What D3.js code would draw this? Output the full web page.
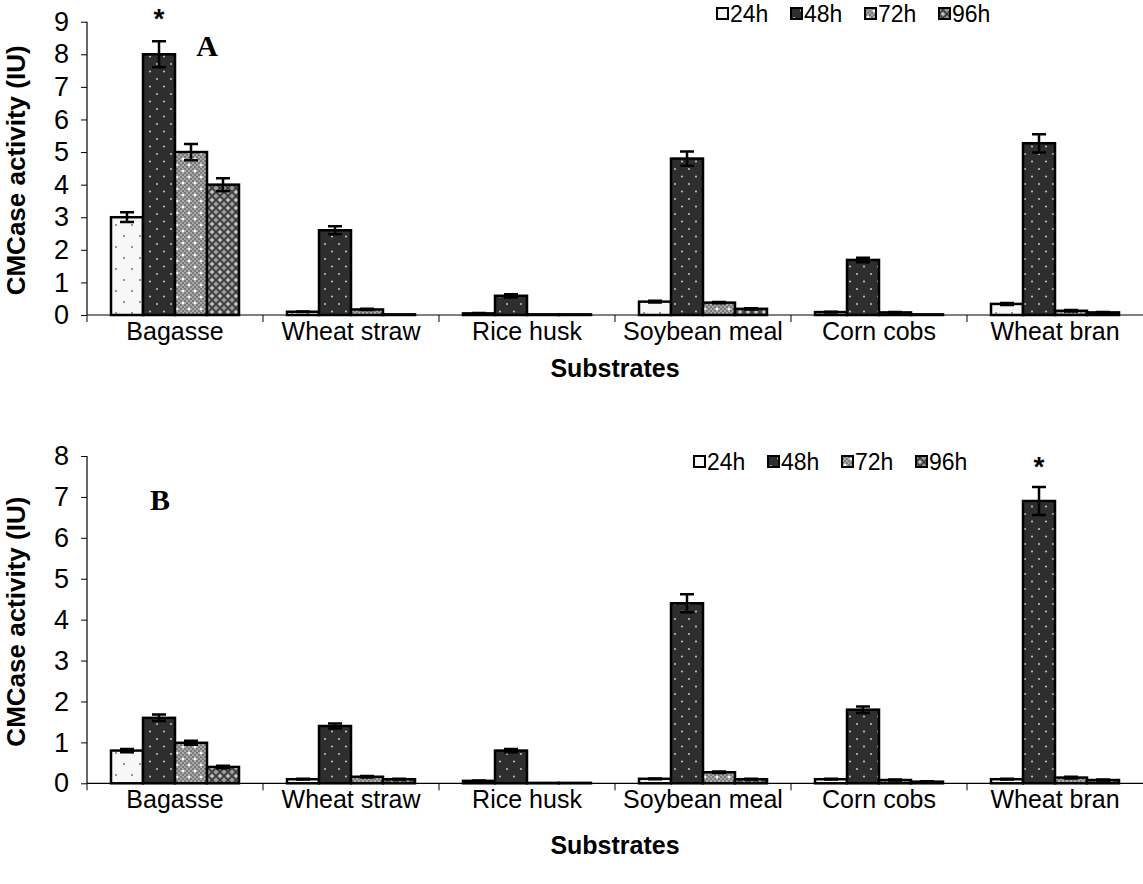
<!DOCTYPE html>
<html>
<head>
<meta charset="utf-8">
<script src="https://cdn.jsdelivr.net/npm/d3@7"></script>
<style>
    body { margin: 0; background: #fff; }
    svg text { font-family: "Liberation Sans", Arial, sans-serif; fill: #000; }
</style>
</head>
<body>
<svg id="chart" width="1143" height="884"></svg>
<script>
const substrates = ['Bagasse', 'Wheat straw', 'Rice husk', 'Soybean meal', 'Corn cobs', 'Wheat bran'];
const seriesNames = ['24h', '48h', '72h', '96h'];

// panel A
const a24 = [3.0, 0.10, 0.05, 0.41, 0.09, 0.34];
const a48 = [8.0, 2.6, 0.59, 4.8, 1.69, 5.27];
const a72 = [5.0, 0.17, 0.02, 0.38, 0.08, 0.13];
const a96 = [4.0, 0.02, 0.02, 0.19, 0.02, 0.08];
const aErr24 = [0.15, 0.01, 0.01, 0.03, 0.01, 0.03];
const aErr48 = [0.4, 0.12, 0.05, 0.22, 0.07, 0.28];
const aErr72 = [0.25, 0.02, 0.0, 0.02, 0.01, 0.02];
const aErr96 = [0.2, 0.0, 0.0, 0.02, 0.0, 0.01];
const aTicks = [0, 1, 2, 3, 4, 5, 6, 7, 8, 9];

// panel B
const b24 = [0.8, 0.10, 0.06, 0.11, 0.10, 0.10];
const b48 = [1.6, 1.4, 0.8, 4.4, 1.8, 6.9];
const b72 = [0.99, 0.16, 0.01, 0.27, 0.08, 0.14];
const b96 = [0.4, 0.10, 0.01, 0.10, 0.04, 0.08];
const bErr24 = [0.04, 0.01, 0.01, 0.01, 0.01, 0.01];
const bErr48 = [0.08, 0.06, 0.04, 0.22, 0.08, 0.34];
const bErr72 = [0.05, 0.02, 0.0, 0.02, 0.01, 0.02];
const bErr96 = [0.03, 0.01, 0.0, 0.01, 0.01, 0.01];
const bTicks = [0, 1, 2, 3, 4, 5, 6, 7, 8];

const svg = d3.select('#chart');

// fill patterns for the four time points
const defs = svg.append('defs');

let p = defs.append('pattern').attr('id', 'pat24').attr('patternUnits', 'userSpaceOnUse')
    .attr('width', 16).attr('height', 22);
p.append('rect').attr('width', 16).attr('height', 22).attr('fill', '#f7f7f7');
p.append('circle').attr('cx', 4).attr('cy', 5).attr('r', 1).attr('fill', '#777');
p.append('circle').attr('cx', 12).attr('cy', 16).attr('r', 1).attr('fill', '#777');

p = defs.append('pattern').attr('id', 'pat48').attr('patternUnits', 'userSpaceOnUse')
    .attr('width', 14).attr('height', 15);
p.append('rect').attr('width', 14).attr('height', 15).attr('fill', '#2e2e2e');
p.append('circle').attr('cx', 3).attr('cy', 4).attr('r', 1.1).attr('fill', '#bbb');
p.append('circle').attr('cx', 10).attr('cy', 11.5).attr('r', 1.1).attr('fill', '#bbb');

p = defs.append('pattern').attr('id', 'pat72').attr('patternUnits', 'userSpaceOnUse')
    .attr('width', 12).attr('height', 12);
p.append('rect').attr('width', 12).attr('height', 12).attr('fill', '#a8a8a8');
for (let i = 0; i < 6; i++) {
    for (let j = 0; j < 6; j++) {
        if ((i + j) % 2 === 0) {
            p.append('rect').attr('x', i * 2).attr('y', j * 2).attr('width', 2).attr('height', 2).attr('fill', '#7a7a7a');
        }
    }
}
p.append('circle').attr('cx', 3).attr('cy', 3).attr('r', 1.3).attr('fill', '#fff');
p.append('circle').attr('cx', 9).attr('cy', 9).attr('r', 1.3).attr('fill', '#fff');

p = defs.append('pattern').attr('id', 'pat96').attr('patternUnits', 'userSpaceOnUse')
    .attr('width', 8).attr('height', 8);
p.append('rect').attr('width', 8).attr('height', 8).attr('fill', '#9a9a9a');
p.append('path').attr('d', 'M0,0L8,8M8,0L0,8').attr('stroke', '#3a3a3a').attr('stroke-width', 1.6);
p.append('circle').attr('cx', 4).attr('cy', 0).attr('r', 1).attr('fill', '#ddd');
p.append('circle').attr('cx', 4).attr('cy', 8).attr('r', 1).attr('fill', '#ddd');

const fills = ['url(#pat24)', 'url(#pat48)', 'url(#pat72)', 'url(#pat96)'];

class GroupedBars {
    constructor(_config, _values, _errors) {
        this.config = {
            top: _config.top,
            bottom: _config.bottom,
            left: 87,
            right: 1143,
            yMax: _config.yMax,
            ticks: _config.ticks,
            labelGap: _config.labelGap,
            titleGap: _config.titleGap,
            panel: _config.panel,
            panelPos: _config.panelPos,
            legendX: _config.legendX,
            legendY: _config.legendY,
            star: _config.star
        };
        this.values = _values;
        this.errors = _errors;
        this.initVis();
    }

    initVis() {
        let vis = this;
        const c = vis.config;

        vis.xScale = d3.scaleBand()
            .domain(substrates)
            .range([c.left, c.right]);

        vis.xSub = d3.scaleBand()
            .domain(seriesNames)
            .range([24, vis.xScale.bandwidth() - 24]);

        vis.yScale = d3.scaleLinear()
            .domain([0, c.yMax])
            .range([c.bottom, c.top]);

        vis.g = svg.append('g');

        // y axis
        vis.g.append('g')
            .attr('transform', `translate(${c.left},0)`)
            .call(d3.axisLeft(vis.yScale).tickValues(c.ticks).tickSize(6).tickPadding(12).tickFormat(d3.format('d')))
            .call(g => g.select('.domain').attr('stroke-width', 1.2).attr('d', `M0,${c.bottom}V${c.top}`))
            .call(g => g.selectAll('.tick line').attr('stroke-width', 1))
            .call(g => g.selectAll('.tick text').attr('font-size', 27).attr('font-family', '"Liberation Sans", Arial, sans-serif'));

        // x axis with ticks between categories
        vis.g.append('line')
            .attr('x1', c.left).attr('x2', c.right)
            .attr('y1', c.bottom).attr('y2', c.bottom)
            .attr('stroke', '#000').attr('stroke-width', 1.2);

        vis.g.selectAll('.xtick')
            .data(substrates)
            .join('line')
            .attr('class', 'xtick')
            .attr('x1', d => vis.xScale(d)).attr('x2', d => vis.xScale(d))
            .attr('y1', c.bottom).attr('y2', c.bottom + 7)
            .attr('stroke', '#000').attr('stroke-width', 1);

        vis.g.selectAll('.xlabel')
            .data(substrates)
            .join('text')
            .attr('class', 'xlabel')
            .attr('x', d => vis.xScale(d) + vis.xScale.bandwidth() / 2)
            .attr('y', c.bottom + c.labelGap)
            .attr('text-anchor', 'middle')
            .attr('font-size', 25)
            .text(d => d);

        vis.g.append('text')
            .attr('x', (c.left + c.right) / 2)
            .attr('y', c.bottom + c.titleGap)
            .attr('text-anchor', 'middle')
            .attr('font-size', 25)
            .attr('font-weight', 'bold')
            .text('Substrates');

        vis.g.append('text')
            .attr('transform', `translate(25,${(c.top + c.bottom) / 2 + 2}) rotate(-90)`)
            .attr('text-anchor', 'middle')
            .attr('font-size', 26)
            .attr('font-weight', 'bold')
            .text('CMCase activity (IU)');

        vis.renderVis();
    }

    renderVis() {
        let vis = this;
        const c = vis.config;

        const rows = [];
        substrates.forEach((s, i) => {
            seriesNames.forEach((n, k) => {
                rows.push({ sub: s, series: n, k: k, value: vis.values[k][i], err: vis.errors[k][i] });
            });
        });

        const bars = vis.g.append('g');

        bars.selectAll('rect')
            .data(rows)
            .join('rect')
            .attr('x', d => vis.xScale(d.sub) + vis.xSub(d.series))
            .attr('width', vis.xSub.bandwidth())
            .attr('y', d => vis.yScale(d.value))
            .attr('height', d => c.bottom - vis.yScale(d.value))
            .attr('fill', d => fills[d.k])
            .attr('stroke', '#000')
            .attr('stroke-width', 2.5);

        const errRows = rows.filter(d => d.err > 0);
        const cx = d => vis.xScale(d.sub) + vis.xSub(d.series) + vis.xSub.bandwidth() / 2;

        bars.selectAll('.err')
            .data(errRows)
            .join('path')
            .attr('class', 'err')
            .attr('fill', 'none')
            .attr('stroke', '#000')
            .attr('stroke-width', 2.5)
            .attr('d', d => {
                const y1 = vis.yScale(d.value + d.err);
                const y2 = vis.yScale(d.value - d.err);
                const x = cx(d);
                return `M${x - 7},${y1}H${x + 7}M${x},${y1}V${y2}M${x - 7},${y2}H${x + 7}`;
            });

        // significance star
        const s = c.star;
        const starX = vis.xScale(s.sub) + vis.xSub(s.series) + vis.xSub.bandwidth() / 2;
        vis.g.append('text')
            .attr('x', starX)
            .attr('y', s.y)
            .attr('text-anchor', 'middle')
            .attr('font-size', 28)
            .attr('font-weight', 'bold')
            .text('*');

        // panel letter
        vis.g.append('text')
            .attr('x', c.panelPos[0])
            .attr('y', c.panelPos[1])
            .attr('text-anchor', 'middle')
            .attr('font-size', 30)
            .attr('font-weight', 'bold')
            .style('font-family', '"Liberation Serif", "Times New Roman", serif')
            .text(c.panel);

        // legend
        const legend = vis.g.selectAll('.legend')
            .data(seriesNames)
            .join('g')
            .attr('class', 'legend')
            .attr('transform', (d, i) => `translate(${c.legendX + i * 74},${c.legendY})`);

        legend.append('rect')
            .attr('x', 0).attr('y', -6)
            .attr('width', 11).attr('height', 11)
            .attr('fill', (d, i) => fills[i])
            .attr('stroke', '#000')
            .attr('stroke-width', 2);

        legend.append('text')
            .attr('x', 13)
            .attr('y', 8)
            .attr('font-size', 23)
            .text(d => d);
    }
}

new GroupedBars({
    top: 21.7, bottom: 315, yMax: 9, ticks: aTicks,
    labelGap: 25, titleGap: 62,
    panel: 'A', panelPos: [207, 56],
    legendX: 717, legendY: 14,
    star: { sub: 'Bagasse', series: '48h', y: 28 }
}, [a24, a48, a72, a96], [aErr24, aErr48, aErr72, aErr96]);

new GroupedBars({
    top: 456, bottom: 783.3, yMax: 8, ticks: bTicks,
    labelGap: 25, titleGap: 71,
    panel: 'B', panelPos: [160, 510],
    legendX: 694, legendY: 462,
    star: { sub: 'Wheat bran', series: '48h', y: 476 }
}, [b24, b48, b72, b96], [bErr24, bErr48, bErr72, bErr96]);
</script>
</body>
</html>
